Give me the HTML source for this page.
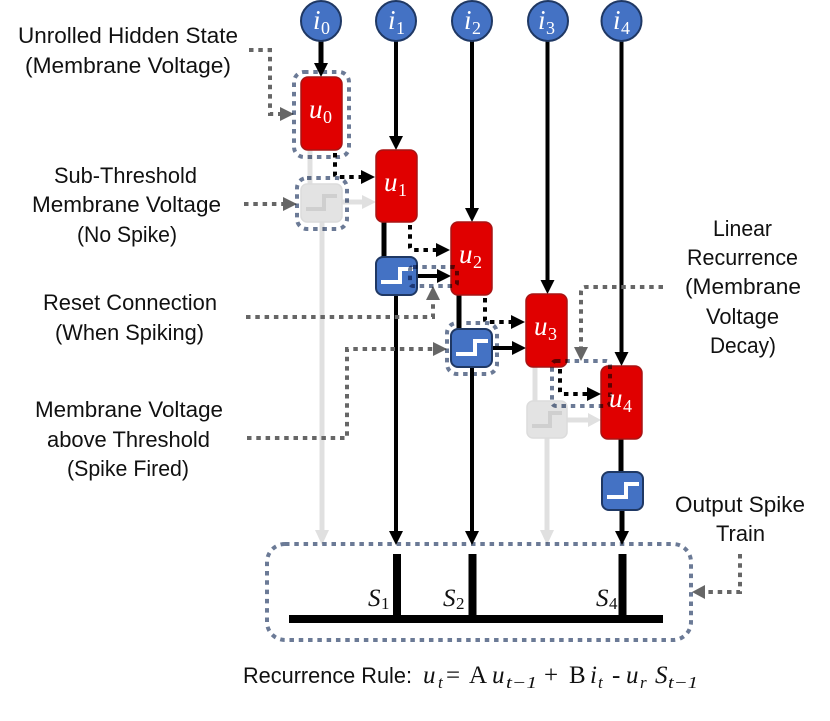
<!DOCTYPE html>
<html><head><meta charset="utf-8"><style>
html,body{margin:0;padding:0;background:#fff}
svg{display:block;filter:blur(.35px)}
.l{font-family:"Liberation Sans",sans-serif;font-size:22px;fill:#111}
.m{font-family:"Liberation Serif",serif;font-style:italic}
.w{fill:#fff}
.dg{fill:none;stroke:#666;stroke-width:4;stroke-dasharray:4.5 4.8}
.dk{fill:none;stroke:#000;stroke-width:4;stroke-dasharray:4.5 4.8}
.db{fill:none;stroke:#6b7a96;stroke-width:4;stroke-dasharray:4.5 4.8;mix-blend-mode:multiply}
.red{fill:#e00000;stroke:#a81414;stroke-width:1.5}
.blue{fill:#4472c4;stroke:#1f3864;stroke-width:2}
.gr{fill:#e3e3e3;stroke:#dcdcdc;stroke-width:1.5}
</style></head><body>
<svg width="830" height="721" viewBox="0 0 830 721" xmlns="http://www.w3.org/2000/svg">
<rect width="830" height="721" fill="#fff"/>
<!-- grey connectors -->
<g stroke="#e0e0e0" stroke-width="5" fill="none">
<path d="M310 150V184"/><path d="M322 222V532"/><path d="M342 202H364"/>
<path d="M535 367V401"/><path d="M547 438V532"/><path d="M567 420H589"/>
</g>
<g fill="#e0e0e0">
<path d="M315 530H329L322 545Z"/><path d="M540 530H554L547 545Z"/>
<path d="M362 195V209L376 202Z"/><path d="M588 413V427L601 420Z"/>
</g>
<!-- solid black connectors -->
<g stroke="#000" fill="none" stroke-width="4">
<path d="M321 41V64" stroke-width="5"/><path d="M396 41V137"/><path d="M472 41V209"/><path d="M547.500 41V281"/><path d="M621.500 41V353"/>
<path d="M384 222V257" stroke-width="5"/><path d="M396 295V532"/>
<path d="M459 295V329" stroke-width="5"/><path d="M472 367V532"/>
<path d="M621 439V472" stroke-width="5"/><path d="M622 510V532" stroke-width="5"/>
<path d="M417 276H438"/><path d="M492 348H513"/>
</g>
<g fill="#000">
<path d="M314 63H328L321 77Z"/><path d="M389 136H403L396 150Z"/><path d="M465 208H479L472 222Z"/><path d="M540.500 280H554.500L547.500 294Z"/><path d="M614.500 352H628.500L621.500 366Z"/>
<path d="M389 531H403L396 545Z"/><path d="M465 531H479L472 545Z"/><path d="M615 531H629L622 545Z"/>
<path d="M437 269V283L451 276Z"/><path d="M512 341V355L526 348Z"/>
</g>
<!-- nodes -->
<g fill="#4472c4" stroke="#1f3864" stroke-width="2">
<circle cx="321" cy="21" r="20"/><circle cx="396" cy="21" r="20"/><circle cx="472" cy="21" r="20"/><circle cx="548" cy="21" r="20"/><circle cx="621.500" cy="21" r="20"/>
</g>
<rect class="red" x="301" y="77" width="41" height="73" rx="7"/>
<rect class="red" x="376" y="150" width="41" height="72" rx="7"/>
<rect class="red" x="451" y="222" width="41" height="73" rx="7"/>
<rect class="red" x="526" y="294" width="41" height="73" rx="7"/>
<rect class="red" x="601" y="366" width="41" height="73" rx="7"/>
<rect class="gr" x="301" y="184" width="41" height="38" rx="6"/>
<rect class="gr" x="527" y="401" width="40" height="37" rx="6"/>
<path d="M306 209H324V196H337" fill="none" stroke="#cfcfcf" stroke-width="4"/>
<path d="M532 426H550V413H562" fill="none" stroke="#cfcfcf" stroke-width="4"/>
<rect class="blue" x="376" y="257" width="41" height="38" rx="7"/>
<rect class="blue" x="451" y="329" width="41" height="38" rx="7"/>
<rect class="blue" x="602" y="472" width="41" height="38" rx="7"/>
<g fill="none" stroke="#fff" stroke-width="4">
<path d="M381 282H400V269H413"/><path d="M456 354H475V341H488"/><path d="M607 497H626V484H639"/>
</g>
<!-- black dotted -->
<path class="dk" d="M335 153V175Q335 177 338 177H362"/><path d="M361 170V184L375 177Z"/>
<path class="dk" d="M410 225V247Q410 250 413 250H437"/><path d="M436 243V257L450 250Z"/>
<path class="dk" d="M485 298V320Q485 322 488 322H512"/><path d="M511 315V329L525 322Z"/>
<path class="dk" d="M560 369V392Q560 394 563 394H587"/><path d="M587 387V401L601 394Z"/>
<!-- grey dotted callouts -->
<path class="dg" d="M249 50H270V114H282"/><path d="M280 107V121L294 114Z" fill="#666"/>
<path class="dg" d="M244 204H284"/><path d="M283 197V211L297 204Z" fill="#666"/>
<path class="dg" d="M246 317H433V300"/><path d="M426 300H440L433 286Z" fill="#666"/>
<path class="dg" d="M247 438H347V349H434"/><path d="M433 342V356L447 349Z" fill="#666"/>
<path class="dg" d="M663 287H586Q581 287 581 292V348"/><path d="M574 347H588L581 361Z" fill="#666"/>
<path class="dg" d="M740 554V592H705"/><path d="M705 585V599L692 592Z" fill="#666"/>
<!-- dotted highlight boxes -->
<rect class="db" x="294" y="72" width="55" height="85" rx="10"/>
<rect class="db" x="297" y="178" width="50" height="51" rx="10"/>
<rect class="db" x="410" y="267" width="47" height="19" rx="3"/>
<rect class="db" x="447" y="323" width="50" height="51" rx="10"/>
<rect class="db" x="552" y="361" width="58" height="45" rx="4"/>
<!-- spike train -->
<g fill="#000">
<rect x="289" y="615" width="374" height="8"/>
<rect x="393" y="554" width="8" height="64"/><rect x="468.500" y="554" width="8" height="64"/><rect x="618.500" y="554" width="8" height="64"/>
</g>
<rect class="db" x="267" y="544" width="424" height="96" rx="18"/>
<!-- node labels -->
<g class="m w" font-size="27">
<text x="313" y="29">i</text><text x="388" y="29">i</text><text x="464" y="29">i</text><text x="538" y="29">i</text><text x="613" y="29">i</text>
<text x="309" y="118">u</text><text x="384" y="191">u</text><text x="459" y="263">u</text><text x="534" y="335">u</text><text x="609" y="407">u</text>
</g>
<g class="m w" font-size="18" style="font-style:normal">
<text x="321" y="34">0</text><text x="396" y="34">1</text><text x="472" y="34">2</text><text x="546" y="34">3</text><text x="621" y="34">4</text>
<text x="323" y="123">0</text><text x="398" y="196">1</text><text x="473" y="268">2</text><text x="548" y="340">3</text><text x="623" y="412">4</text>
</g>
<g class="m" font-size="25" fill="#111">
<text x="368" y="606">S</text><text x="443" y="606">S</text><text x="596" y="606">S</text>
</g>
<g class="m" font-size="17" fill="#111" style="font-style:normal">
<text x="381" y="609">1</text><text x="456" y="609">2</text><text x="609" y="609">4</text>
</g>
<!-- text labels -->
<g class="l">
<text x="18" y="43" textLength="220" lengthAdjust="spacingAndGlyphs">Unrolled Hidden State</text>
<text x="25" y="73" textLength="206" lengthAdjust="spacingAndGlyphs">(Membrane Voltage)</text>
<text x="54" y="183" textLength="143" lengthAdjust="spacingAndGlyphs">Sub-Threshold</text>
<text x="32" y="212" textLength="189" lengthAdjust="spacingAndGlyphs">Membrane Voltage</text>
<text x="77" y="242" textLength="100" lengthAdjust="spacingAndGlyphs">(No Spike)</text>
<text x="43" y="310" textLength="174" lengthAdjust="spacingAndGlyphs">Reset Connection</text>
<text x="55" y="340" textLength="149" lengthAdjust="spacingAndGlyphs">(When Spiking)</text>
<text x="35" y="417" textLength="188" lengthAdjust="spacingAndGlyphs">Membrane Voltage</text>
<text x="47" y="447" textLength="163" lengthAdjust="spacingAndGlyphs">above Threshold</text>
<text x="67" y="476" textLength="122" lengthAdjust="spacingAndGlyphs">(Spike Fired)</text>
<text x="713" y="236" textLength="59" lengthAdjust="spacingAndGlyphs">Linear</text>
<text x="687" y="265" textLength="111" lengthAdjust="spacingAndGlyphs">Recurrence</text>
<text x="685" y="294" textLength="116" lengthAdjust="spacingAndGlyphs">(Membrane</text>
<text x="706" y="324" textLength="73" lengthAdjust="spacingAndGlyphs">Voltage</text>
<text x="710" y="353" textLength="66" lengthAdjust="spacingAndGlyphs">Decay)</text>
<text x="675" y="512" textLength="130" lengthAdjust="spacingAndGlyphs">Output Spike</text>
<text x="716" y="541" textLength="49" lengthAdjust="spacingAndGlyphs">Train</text>
<text x="243" y="683" textLength="169" lengthAdjust="spacingAndGlyphs">Recurrence Rule:</text>
</g>
<!-- equation -->
<g font-family="Liberation Serif, serif" font-size="25" fill="#111">
<text x="423" y="683" font-style="italic">u</text><text x="438" y="688" font-size="17" font-style="italic">t</text>
<text x="446" y="683">=</text><text x="469" y="683">A</text>
<text x="492" y="683" font-style="italic">u</text><text x="506" y="688" font-size="17" font-style="italic" textLength="31" lengthAdjust="spacingAndGlyphs">t−1</text>
<text x="544" y="683">+</text><text x="569" y="683">B</text>
<text x="590" y="683" font-style="italic">i</text><text x="598" y="688" font-size="17" font-style="italic">t</text>
<text x="612" y="683">-</text>
<text x="626" y="683" font-style="italic">u</text><text x="640" y="688" font-size="17" font-style="italic">r</text>
<text x="655" y="683" font-style="italic">S</text><text x="668" y="688" font-size="17" font-style="italic" textLength="30" lengthAdjust="spacingAndGlyphs">t−1</text>
</g>
</svg>
</body></html>
